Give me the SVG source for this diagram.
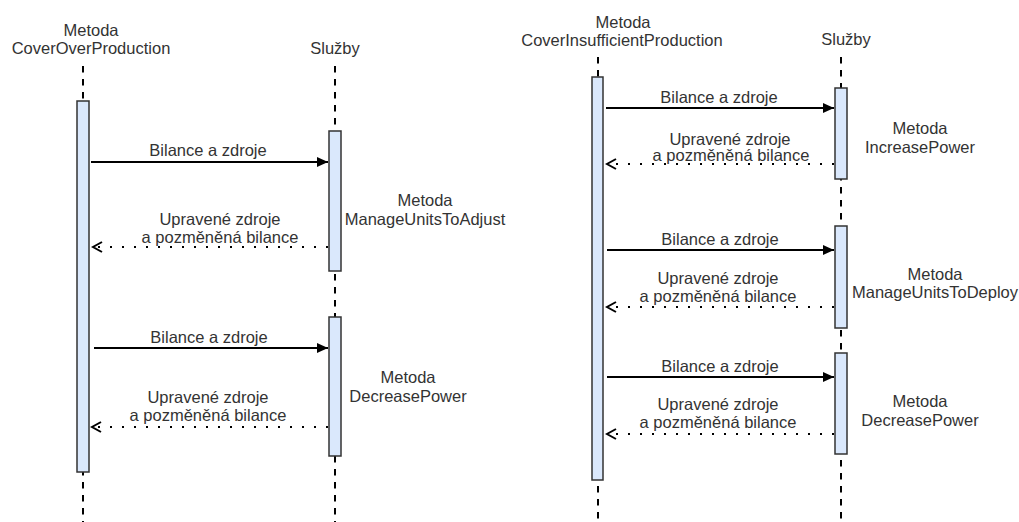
<svg xmlns="http://www.w3.org/2000/svg" width="1019" height="522" viewBox="0 0 1019 522">
<defs>
<marker id="fill" markerUnits="userSpaceOnUse" markerWidth="12" markerHeight="11" refX="11" refY="5" orient="auto"><path d="M0,0 L11,5 L0,10 z" fill="#000"/></marker>
<marker id="open" markerUnits="userSpaceOnUse" markerWidth="12" markerHeight="14" refX="10" refY="6" orient="auto"><path d="M1,1 L10,6 L1,11" fill="none" stroke="#000" stroke-width="2"/></marker>
</defs>
<style>
text{font-family:"Liberation Sans",Arial,sans-serif;font-size:16.5px;fill:#333;text-anchor:middle}
.life{stroke:#000;stroke-width:2;stroke-dasharray:6.5 6.5;fill:none}
.act{fill:#dae8fc;stroke:#333;stroke-width:1.5}
.msg{stroke:#000;stroke-width:2;fill:none;marker-end:url(#fill)}
.ret{stroke:#000;stroke-width:2;fill:none;stroke-dasharray:2 10;marker-end:url(#open)}
</style>
<rect width="1019" height="522" fill="#fff"/>

<g id="lifeline-coverover">
<text x="91" y="36">Metoda</text>
<text x="91" y="54">CoverOverProduction</text>
<line class="life" x1="83" y1="66" x2="83" y2="522"/>
<rect class="act" x="77" y="101" width="12" height="371"/>
</g>

<g id="lifeline-sluzby-left">
<text x="335" y="54">Služby</text>
<line class="life" x1="335" y1="66" x2="335" y2="522"/>
<rect class="act" x="329" y="131" width="12" height="140"/>
<rect class="act" x="329" y="317" width="12" height="139"/>
</g>

<g id="lifeline-coverinsufficient">
<text x="623" y="28">Metoda</text>
<text x="622" y="46">CoverInsufficientProduction</text>
<line class="life" x1="598" y1="57" x2="598" y2="522"/>
<rect class="act" x="592" y="77" width="11" height="403"/>
</g>

<g id="lifeline-sluzby-right">
<text x="846" y="45">Služby</text>
<line class="life" x1="841" y1="57" x2="841" y2="522"/>
<rect class="act" x="835" y="88" width="12" height="91"/>
<rect class="act" x="835" y="226" width="12" height="102"/>
<rect class="act" x="835" y="353" width="12" height="101"/>
</g>

<g id="method-labels">
<text x="425" y="206">Metoda</text>
<text x="425" y="225">ManageUnitsToAdjust</text>
<text x="408" y="383">Metoda</text>
<text x="408" y="402">DecreasePower</text>
<text x="920" y="134">Metoda</text>
<text x="920" y="153">IncreasePower</text>
<text x="935" y="280">Metoda</text>
<text x="935" y="298">ManageUnitsToDeploy</text>
<text x="920" y="407">Metoda</text>
<text x="920" y="426">DecreasePower</text>
</g>

<g id="connectors">
<line class="msg" x1="91" y1="162" x2="328" y2="162"/>
<text x="208" y="156">Bilance a zdroje</text>
<line class="ret" x1="328" y1="247" x2="93" y2="247"/>
<text x="220" y="225">Upravené zdroje</text>
<text x="220" y="243">a pozměněná bilance</text>

<line class="msg" x1="94" y1="348" x2="328" y2="348"/>
<text x="209" y="343">Bilance a zdroje</text>
<line class="ret" x1="328" y1="427" x2="92" y2="427"/>
<text x="208" y="403">Upravené zdroje</text>
<text x="208" y="421">a pozměněná bilance</text>

<line class="msg" x1="606" y1="108" x2="834" y2="108"/>
<text x="719" y="103">Bilance a zdroje</text>
<line class="ret" x1="834" y1="164" x2="607" y2="164"/>
<text x="730" y="145">Upravené zdroje</text>
<text x="731" y="161">a pozměněná bilance</text>

<line class="msg" x1="607" y1="250" x2="834" y2="250"/>
<text x="720" y="245">Bilance a zdroje</text>
<line class="ret" x1="834" y1="307" x2="607" y2="307"/>
<text x="718" y="284">Upravené zdroje</text>
<text x="718" y="302">a pozměněná bilance</text>

<line class="msg" x1="607" y1="377" x2="834" y2="377"/>
<text x="720" y="372">Bilance a zdroje</text>
<line class="ret" x1="834" y1="434" x2="607" y2="434"/>
<text x="718" y="410">Upravené zdroje</text>
<text x="718" y="428">a pozměněná bilance</text>
</g>
</svg>
